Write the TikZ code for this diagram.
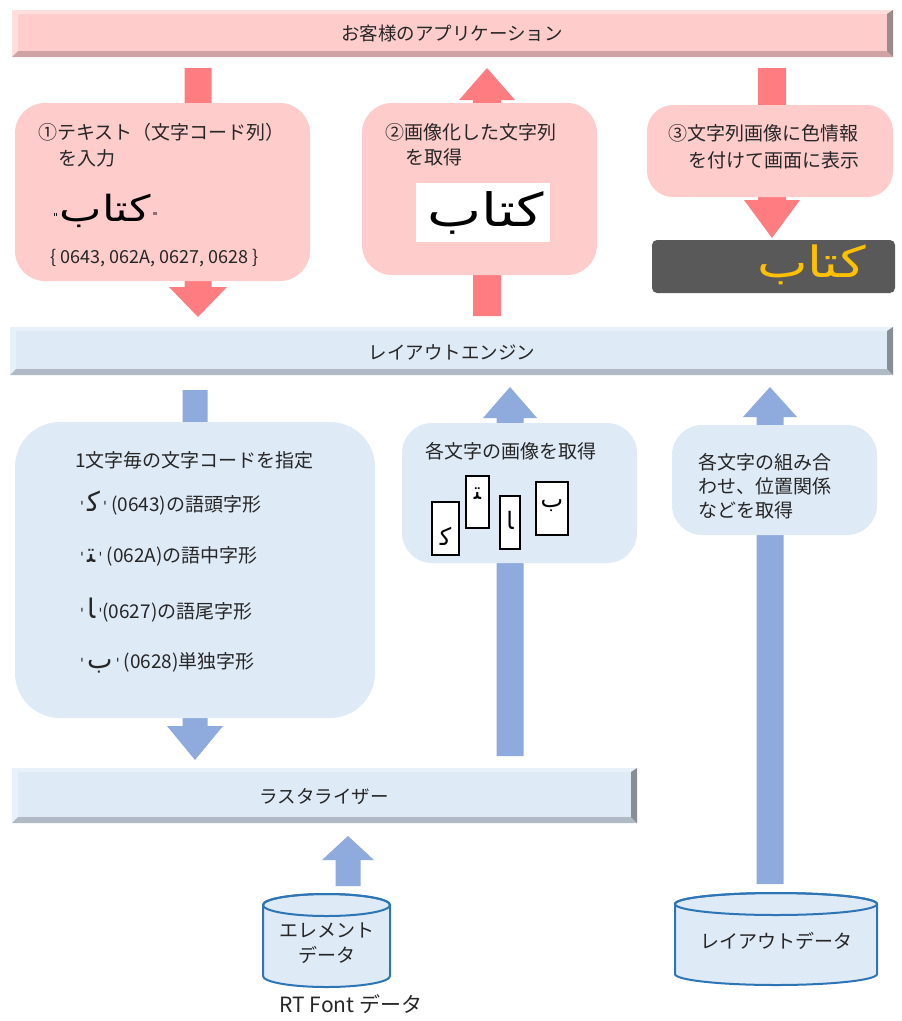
\documentclass[tikz,border=0pt]{standalone}
\usepackage{graphicx}
\usepackage{fontspec}
\setmainfont{Noto Sans CJK JP}
\newfontfamily\arabicfont[Script=Arabic]{DejaVu Sans}
\newfontfamily\arabplain{DejaVu Sans}
\newfontfamily\qfont[Ligatures=ResetAll]{DejaVu Sans}
\TeXXeTstate=1
\definecolor{pinkface}{HTML}{FFCCCC}
\definecolor{pinklight}{HTML}{FFDEDE}
\definecolor{pinkdark}{HTML}{CFA3A3}
\definecolor{pinkside}{HTML}{9C8A8A}
\definecolor{pinkarrow}{HTML}{FF7C80}
\definecolor{blueface}{HTML}{DEEAF6}
\definecolor{bluelight}{HTML}{E8F0F9}
\definecolor{bluedark}{HTML}{B0BAC4}
\definecolor{blueside}{HTML}{868E96}
\definecolor{bluearrow}{HTML}{8FAADC}
\definecolor{cylline}{HTML}{2E75B6}
\definecolor{darkbox}{HTML}{595959}
\definecolor{yellowtxt}{HTML}{FFC000}
\definecolor{txtgray}{HTML}{262626}
\newcommand\blockarrow[7]{% cx, y0, ybase, ytip, shaft half, head half, colour
  \fill[#7] ({#1-#5},#2) -- ({#1+#5},#2) -- ({#1+#5},#3) -- ({#1+#6},#3) -- (#1,#4)
    -- ({#1-#6},#3) -- ({#1-#5},#3) -- cycle;}
\newcommand\bevelbar[8]{% x1,y1,x2,y2,face,light,dark,side
  \fill[#5] (#1,#2) rectangle (#3,#4);
  \fill[#6] (#1,#2) -- (#3,#2) -- ({#3-6},{#2+4}) -- ({#1+6},{#2+4}) -- cycle;
  \fill[#6] (#1,#2) -- ({#1+6},{#2+4}) -- ({#1+6},{#4-6}) -- (#1,#4) -- cycle;
  \fill[#7] (#1,#4) -- ({#1+6},{#4-6}) -- ({#3-6},{#4-6}) -- (#3,#4) -- cycle;
  \fill[#8] (#3,#2) -- (#3,#4) -- ({#3-6},{#4-6}) -- ({#3-6},{#2+4}) -- cycle;}
\newcommand\cyl[5]{% cx, ytop, ybottom, rx, ry
  \filldraw[fill=blueface,draw=cylline,line width=2pt]
    ({#1-#4},#2) -- ({#1-#4},#3) arc[start angle=180,end angle=360,x radius=#4pt,y radius=#5pt]
    -- ({#1+#4},#2) arc[start angle=0,end angle=180,x radius=#4pt,y radius=#5pt] -- cycle;
  \draw[draw=cylline,line width=2pt] (#1,#2) ellipse[x radius=#4pt,y radius=#5pt];}
\newcommand\arword[1]{\scalebox{1.25}[1]{\arabicfont\fontsize{#1}{#1}\selectfont\beginR كتاب\endR}}
\newcommand\qmark{{\qfont\fontsize{14}{14}\selectfont'}}
\tikzset{
  txt/.style={inner sep=0pt,text=txtgray,font=\fontsize{19}{23}\selectfont},
  bartxt/.style={inner sep=0pt,text=txtgray,font=\fontsize{18.5}{22}\selectfont},
  pinkbox/.style={fill=pinkface,inner sep=0pt},
  bluebox/.style={fill=blueface,inner sep=0pt},
  glyphbox/.style={draw=black,line width=1.4pt,fill=white,inner sep=0pt},
  glyph/.style={inner sep=0pt,font=\arabplain\fontsize{24}{24}\selectfont},
}
\begin{document}
\begin{tikzpicture}[x=1pt,y=-1pt]
\useasboundingbox (0,0) rectangle (902,1021);
% arrows (behind boxes)
\blockarrow{198}{68}{287}{317}{13.5}{29}{pinkarrow}
\blockarrow{487}{316}{100}{68}{14}{28}{pinkarrow}
\blockarrow{772}{68}{200}{238}{14}{28}{pinkarrow}
\blockarrow{195}{390}{726}{760}{12.5}{28}{bluearrow}
\blockarrow{510}{756}{418}{387}{13.5}{27}{bluearrow}
\blockarrow{770}{884}{417}{387}{13.5}{27}{bluearrow}
\blockarrow{348}{886}{860}{836}{12.5}{26}{bluearrow}
% top bar
\bevelbar{12}{10}{893}{57}{pinkface}{pinklight}{pinkdark}{pinkside}
\node[bartxt] (app) at (452,33) {お客様のアプリケーション};
% box 1
\node[pinkbox,rounded corners=30pt,minimum width=295pt,minimum height=178pt] (b1) at (162.5,192) {};
\node[txt,anchor=west] (b1a) at (38,132) {①テキスト（文字コード列）};
\node[txt,anchor=west] (b1b) at (58,158) {を入力};
\node[inner sep=0pt,anchor=base west] (b1w) at (53,221)
  {{\qfont\fontsize{11}{11}\selectfont"}\,\arword{36}\,{\qfont\fontsize{11}{11}\selectfont\raisebox{1pt}{"}}};
\node[txt,anchor=west,font=\fontsize{18}{22}\selectfont] (b1c) at (50,258) {\{ 0643, 062A, 0627, 0628 \}};
% box 2
\node[pinkbox,rounded corners=30pt,minimum width=235pt,minimum height=172pt] (b2) at (479.5,189) {};
\node[txt,anchor=west] (b2a) at (385,132) {②画像化した文字列};
\node[txt,anchor=west] (b2b) at (405,157) {を取得};
\node[fill=white,minimum width=134pt,minimum height=59pt,inner sep=0pt] (b2w) at (483,212.5) {};
\node[inner sep=0pt] (b2t) at (486,213) {\arword{46}};
% box 3
\node[pinkbox,rounded corners=26pt,minimum width=246pt,minimum height=92pt] (b3) at (770,151) {};
\node[txt,anchor=west] (b3a) at (668,133) {③文字列画像に色情報};
\node[txt,anchor=west] (b3b) at (688,160) {を付けて画面に表示};
% dark display
\node[fill=darkbox,rounded corners=5pt,minimum width=243pt,minimum height=53pt,inner sep=0pt] (disp) at (773.5,266.5) {};
\node[inner sep=0pt,anchor=east,text=yellowtxt] (dispt) at (866,265) {\arword{43}};
% layout engine bar
\bevelbar{10}{327}{893}{375}{blueface}{bluelight}{bluedark}{blueside}
\node[bartxt] (le) at (452,352) {レイアウトエンジン};
% box 4
\node[bluebox,rounded corners=45pt,minimum width=360pt,minimum height=296pt] (b4) at (195,570) {};
\node[txt,anchor=west] (b4a) at (75,460) {1文字毎の文字コードを指定};
\node[txt,anchor=west] (b4b) at (80,503) {\qmark\,{\arabplain\fontsize{27}{27}\selectfont ﻛ}\,\qmark{} (0643)の語頭字形};
\node[txt,anchor=west] (b4c) at (80,556) {\qmark\,{\arabplain\fontsize{27}{27}\selectfont ﺘ}\,\qmark{} (062A)の語中字形};
\node[txt,anchor=west] (b4d) at (80,610) {\qmark\,{\arabplain\fontsize{27}{27}\selectfont ﺎ}\,\qmark(0627)の語尾字形};
\node[txt,anchor=west] (b4e) at (80,663) {\qmark\,{\arabplain\fontsize{27}{27}\selectfont ﺏ}\,\qmark{} (0628)単独字形};
% box 5
\node[bluebox,rounded corners=30pt,minimum width=235pt,minimum height=140pt] (b5) at (519.5,493) {};
\node[txt,anchor=west] (b5a) at (425,451) {各文字の画像を取得};
\node[glyphbox,minimum width=27pt,minimum height=53pt] (g1) at (445.5,528.5) {};
\node[glyphbox,minimum width=23pt,minimum height=52pt] (g2) at (477.5,502) {};
\node[glyphbox,minimum width=20pt,minimum height=53pt] (g3) at (510,522.5) {};
\node[glyphbox,minimum width=32pt,minimum height=53pt] (g4) at (552,508.5) {};
\node[glyph] (g1t) at (445.5,536) {ﻛ};
\node[glyph] (g2t) at (477.5,494) {ﺘ};
\node[glyph] (g3t) at (510,520) {ﺎ};
\node[glyph] (g4t) at (552,506) {ﺏ};
% box 6
\node[bluebox,rounded corners=30pt,minimum width=205pt,minimum height=110pt] (b6) at (774.5,480) {};
\node[txt,anchor=west] (b6a) at (698,462) {各文字の組み合};
\node[txt,anchor=west] (b6b) at (698,486) {わせ、位置関係};
\node[txt,anchor=west] (b6c) at (698,510) {などを取得};
% rasterizer bar
\bevelbar{12}{768}{637}{823}{blueface}{bluelight}{bluedark}{blueside}
\node[bartxt] (ras) at (324,797) {ラスタライザー};
% cylinders
\cyl{326.5}{905}{976}{63.5}{11}
\node[txt] (c1a) at (326.5,930) {エレメント};
\node[txt] (c1b) at (326.5,955) {データ};
\cyl{776}{904}{974}{101}{11}
\node[txt] (c2) at (776,941) {レイアウトデータ};
\node[txt,font=\fontsize{21}{25}\selectfont] (rt) at (351,1004) {RT Font データ};
\end{tikzpicture}
\end{document}
